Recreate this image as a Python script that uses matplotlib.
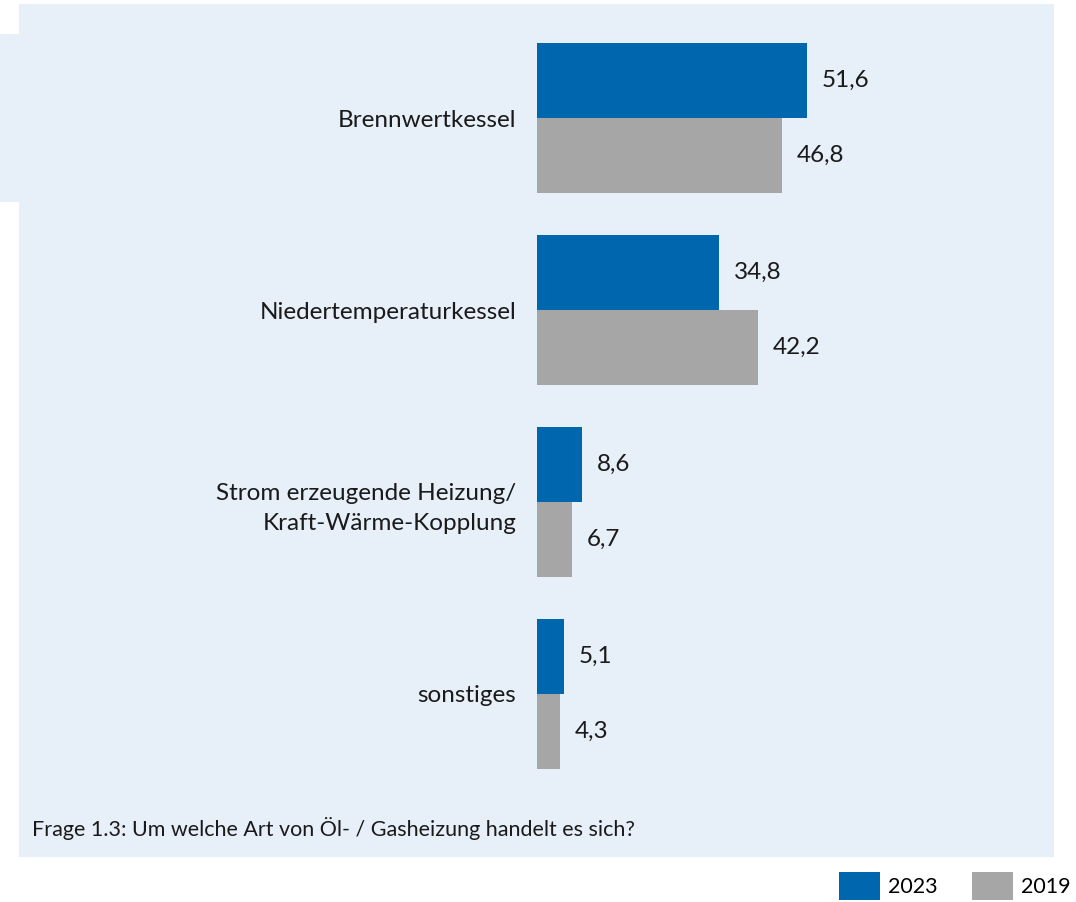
import matplotlib.pyplot as plt
import matplotlib.patches as mpatches
import numpy as np

plt.rcParams['font.family'] = ['Lato', 'DejaVu Sans']

categories = ["Brennwertkessel", "Niedertemperaturkessel",
              "Strom erzeugende Heizung/\nKraft-Wärme-Kopplung", "sonstiges"]
werte_2023 = [51.6, 34.8, 8.6, 5.1]
werte_2019 = [46.8, 42.2, 6.7, 4.3]
jahre = ["2023", "2019"]

blau = "#0066ae"
grau = "#a6a6a6"
panel = "#e7eff8"

W, H = 1076, 902
fig = plt.figure(figsize=(W / 100, H / 100), dpi=100)
fig.patch.set_facecolor("white")

# kleines Feld links oben
fig.add_artist(mpatches.Rectangle((0, 1 - 202 / H), 19 / W, 168 / H,
                                  transform=fig.transFigure, facecolor=panel,
                                  edgecolor="none", zorder=0))

# Achse = blaues Feld
px_l, px_r, px_t, px_b = 19, 1054, 4, 857
ax = fig.add_axes([px_l / W, 1 - px_b / H, (px_r - px_l) / W, (px_b - px_t) / H])
ax.set_facecolor(panel)

scale = 270 / 51.6  # px pro Prozentpunkt
x0 = 537
ax.set_xlim(-(x0 - px_l) / scale, (px_r - x0) / scale)

sp = 192.0
y = np.arange(len(categories))
ax.set_ylim((px_b - 118) / sp, -(118 - px_t) / sp)
h = 75 / sp

ax.barh(y - h / 2, werte_2023, height=h, color=blau, label=jahre[0])
ax.barh(y + h / 2, werte_2019, height=h, color=grau, label=jahre[1])

fs = 17.5
for i in range(len(categories)):
    ax.text(werte_2023[i] + 15 / scale, y[i] - h / 2, f"{werte_2023[i]:.1f}".replace(".", ","),
            va="center", ha="left", fontsize=fs, color="#1a1a1a")
    ax.text(werte_2019[i] + 15 / scale, y[i] + h / 2, f"{werte_2019[i]:.1f}".replace(".", ","),
            va="center", ha="left", fontsize=fs, color="#1a1a1a")

for s in ax.spines.values():
    s.set_visible(False)
ax.spines['left'].set_position(('data', 0))
ax.set_yticks(y)
ax.set_yticklabels(categories, fontsize=fs, color="#1a1a1a", ha="right",
                   multialignment="right", linespacing=1.55)
ax.tick_params(axis='y', length=0, pad=15)
ax.set_xticks([])

fig.text(32 / W, 1 - 828 / H, "Frage 1.3: Um welche Art von Öl- / Gasheizung handelt es sich?",
         fontsize=15.5, va="center", ha="left", color="#1a1a1a")

fig.legend(loc="center right", bbox_to_anchor=(1071 / W, 1 - 886 / H), ncol=2,
           frameon=False, fontsize=15.5, handlelength=1.9, handleheight=1.6,
           handletextpad=0.38, columnspacing=1.6, borderaxespad=0, borderpad=0)

fig.savefig("out.png", dpi=100)
